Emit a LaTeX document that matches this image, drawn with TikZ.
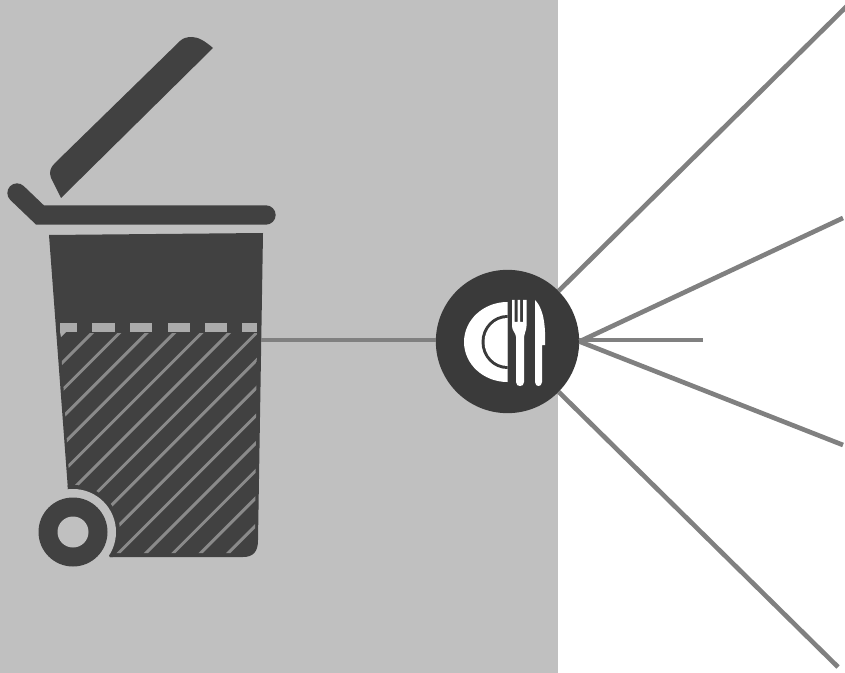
\documentclass[tikz,border=0pt]{standalone}
\definecolor{bgrey}{HTML}{C0C0C0}
\definecolor{dark}{HTML}{414141}
\definecolor{hubdark}{HTML}{3A3A3A}
\definecolor{linegrey}{HTML}{808080}
\definecolor{stripe}{HTML}{8A8A8A}
\definecolor{dashgrey}{HTML}{ABABAB}
\tikzset{
  spoke/.style={draw=linegrey,line width=3.5pt},
  hubnode/.style={circle,fill=hubdark,draw=none,minimum size=107.5pt,inner sep=0pt},
  cutlery/.style={fill=white,draw=none},
  hatchline/.style={draw=stripe,line width=2.2pt},
  gauge/.style={fill=dashgrey,draw=none}
}
\begin{document}
\begin{tikzpicture}[x=0.75pt,y=-0.75pt]
\useasboundingbox (0,0) rectangle (845,673);
\fill[bgrey] (0,0) rectangle (558,673);
% lid
\fill[dark] (213,48) .. controls (205,41) and (198,37) .. (192,37)
  .. controls (187,37) and (183,38) .. (180,41) -- (55,163)
  .. controls (50,168) and (49,172) .. (51,178) -- (61,198) -- cycle;
% rim
\draw[dark,line width=14.5pt,line cap=round,line join=miter] (17,193) -- (40,215) -- (266,215);
% body
\fill[dark] (49,235) -- (263,233) -- (258,540)
  .. controls (258,552) and (253,557) .. (243,557) -- (110,557)
  -- (68,490) -- cycle;
% hatching
\begin{scope}
  \clip (60,333) -- (257,333) -- (255,542) .. controls (255,549) and (251,553) .. (245,553)
     -- (112,553) -- (70,490) -- cycle;
  \foreach \k in {0,...,13}{
    \pgfmathsetmacro{\s}{425+27.4*\k}
    \draw[hatchline] ({\s-300},300) -- ({\s-600},600);
  }
\end{scope}
% gauge line
\foreach \a/\b in {60/77,92/115,130/152,168/190,205/227,242/257}{
  \fill[gauge] (\a,323) rectangle (\b,332);
}
\fill[gauge] (60,332) -- (66,332) -- (61,337) -- cycle;
% wheel
\begin{scope}
  \clip (49,235) -- (263,233) -- (258,540) -- (258,557) -- (110,557) -- (68,490) -- cycle;
  \fill[dark] (73,532) circle[radius=47];
\end{scope}
\fill[bgrey] (73,532) circle[radius=43];
\fill[dark] (73,532) circle[radius=34.5];
\fill[bgrey] (73,532) circle[radius=15.5];
% connectors
\coordinate (binedge) at (261,340);
\coordinate (e1) at (847,6);
\coordinate (e2) at (843,218);
\coordinate (e3) at (703,340);
\coordinate (e4) at (843,445);
\coordinate (e5) at (838,667);
\node[hubnode] (hub) at (507.5,341.5) {};
\draw[spoke] (binedge) -- (hub.west |- binedge);
\draw[spoke] (hub) -- (e1);
\draw[spoke] (hub.east) -- (e2);
\draw[spoke] (hub.east |- e3) -- (e3);
\draw[spoke] (hub.east) -- (e4);
\draw[spoke] (hub) -- (e5);
% plate
\fill[cutlery] (507.5,302) arc[start angle=270,end angle=90,x radius=43.5,y radius=40] -- cycle;
\fill[hubdark] (507.5,315) arc[start angle=270,end angle=90,x radius=26,y radius=27] -- cycle;
\fill[cutlery] (507.5,318) arc[start angle=270,end angle=90,x radius=23,y radius=24] -- cycle;
% fork
\fill[cutlery] (512,300) -- (514.5,300) -- (514.5,322) -- (517.5,322) -- (517.5,300) -- (520,300)
  -- (520,322) -- (523,322) -- (523,300) -- (526.5,300) -- (526.5,326)
  .. controls (526.5,331) and (524,333) .. (524,337) -- (524,382)
  .. controls (524,385) and (522,386) .. (520,386) .. controls (518,386) and (516,385) .. (516,382)
  -- (516,337) .. controls (516,333) and (512,331) .. (512,326) -- cycle;
% knife
\fill[cutlery] (535,300) .. controls (541,306) and (546,318) .. (545,345)
  -- (542,345) -- (542,382) .. controls (542,385) and (540,386) .. (538.5,386)
  .. controls (537,386) and (535,385) .. (535,382) -- cycle;
\end{tikzpicture}
\end{document}
